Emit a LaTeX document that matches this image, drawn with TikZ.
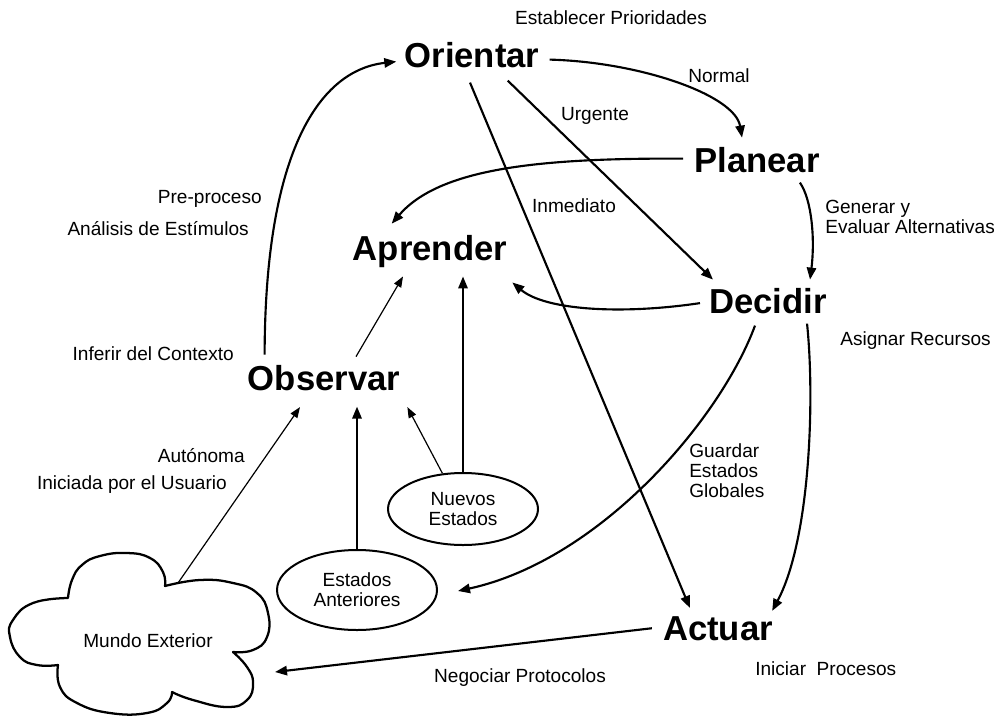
\documentclass[tikz,border=0pt]{standalone}
\usepackage{fontspec}
\setmainfont{Liberation Sans}
\usetikzlibrary{arrows.meta,shapes.geometric}

\begin{document}
\begin{tikzpicture}[x=0.75pt,y=-0.75pt,
  bold/.style={font=\fontsize{26}{30}\selectfont\bfseries, inner sep=0pt, anchor=base},
  note/.style={font=\fontsize{14.3}{15}\selectfont, inner sep=0pt, anchor=base},
  state/.style={ellipse, draw, line width=1.5pt, inner sep=0pt, align=center,
                font=\fontsize{14.3}{15}\selectfont},
  flow/.style={line width=1.6pt, -{Triangle[length=9pt,width=7pt]}},
  thinflow/.style={line width=0.9pt, -{Triangle[length=8pt,width=6pt]}},
  cloudline/.style={line width=1.7pt, line join=round}
]
% canvas
\fill[white] (0,0) rectangle (994,717);
\useasboundingbox (0,0) rectangle (994,717);

% main stages
\node[bold] (orientar) at (472,68) {Orientar};
\node[bold] (planear)  at (757,172) {Planear};
\node[bold] (decidir)  at (768,313) {Decidir};
\node[bold] (aprender) at (430,260) {Aprender};
\node[bold] (observar) at (324,390) {Observar};
\node[bold] (actuar)   at (718,640) {Actuar};

% state stores
\node[state, minimum width=112.5pt, minimum height=54pt] (nuevos) at (463,509) {Nuevos\\Estados};
\node[state, minimum width=120pt, minimum height=60pt] (anteriores) at (357,590) {Estados\\Anteriores};

% outside world
\draw[cloudline] (165,586)
  -- plot[smooth,tension=0.8] coordinates {(165,586) (163,572) (150,558) (127,553) (100,556) (82,565) (72,580) (68,598)}
  -- plot[smooth,tension=0.8] coordinates {(68,598) (33,603) (13,620) (10,637) (20,657) (37,665) (58,665)}
  -- plot[smooth,tension=0.8] coordinates {(58,665) (60,687) (77,703) (110,713) (147,713) (167,703) (172,692)}
  -- plot[smooth,tension=0.8] coordinates {(172,692) (193,700) (227,707) (247,700) (253,683) (247,667) (233,652)}
  -- plot[smooth,tension=0.8] coordinates {(233,652) (253,650) (267,637) (268,613) (257,593) (233,583) (200,580) (165,586)}
  -- cycle;
\node[note] (mundo) at (148,647) {Mundo Exterior};
\coordinate (mundo-out) at (178,583);
\coordinate (mundo-in) at (275,672);

% labels (multi-line labels are placed by the baseline of their last line)
\node[note] (prioridades) at (611,25) {Establecer Prioridades};
\node[note] (normal) at (719,83) {Normal};
\node[note] (urgente) at (595,120) {Urgente};
\node[note] (inmediato) at (574,212) {Inmediato};
\node[note, anchor=base west, align=left] (generar) at (825,233) {Generar y\\Evaluar Alternativas};
\node[note, anchor=base west] (asignar) at (840,345) {Asignar Recursos};
\node[note, anchor=base east] (preproceso) at (262,203) {Pre-proceso};
\node[note, anchor=base east] (analisis) at (249,235) {Análisis de Estímulos};
\node[note, anchor=base east] (inferir) at (234,360) {Inferir del Contexto};
\node[note, anchor=base east] (autonoma) at (245,462) {Autónoma};
\node[note, anchor=base east] (iniciada) at (227,489) {Iniciada por el Usuario};
\node[note, anchor=base west, align=left] (guardar) at (689,497) {Guardar\\Estados\\Globales};
\node[note] (negociar) at (520,682) {Negociar Protocolos};
\node[note, anchor=base west] (iniciar) at (755,675) {Iniciar~ Procesos};

% cycle connectors
\draw[flow] ([shift={(17,-10)}]observar.north west)
  .. controls (265,150) and (320,70) .. ([shift={(-8,6)}]orientar.west);
\draw[flow] ([shift={(10,4)}]orientar.east)
  .. controls (640,62) and (735,95) .. ([shift={(-15,-9)}]planear.north);
\draw[flow] ([shift={(-32,12)}]orientar.south east) -- ([shift={(4,-8)}]decidir.north west);
\draw[flow] ([shift={(-2,14)}]orientar.south) -- ([shift={(27,-8)}]actuar.north west);
\draw[flow] ([shift={(-11,-1)}]planear.west)
  .. controls (540,158) and (440,168) .. ([shift={(39,-11)}]aprender.north west);
\draw[flow] ([shift={(-20,10)}]planear.south east)
  .. controls (812,200) and (815,240) .. ([shift={(-17,-8)}]decidir.north east);
\draw[flow] ([shift={(-9,2.5)}]decidir.west)
  .. controls (620,315) and (545,310) .. ([shift={(5,15)}]aprender.south east);
\draw[flow] ([shift={(-13,12)}]decidir.south)
  .. controls (720,420) and (600,560) .. ([shift={(20,1)}]anteriores.east);
\draw[flow] ([shift={(-20,10)}]decidir.south east)
  .. controls (815,400) and (810,540) .. ([shift={(-1,-5)}]actuar.north east);
\draw[flow] ([shift={(-11,0)}]actuar.west) -- (mundo-in);

% inputs to observing and learning
\draw[thinflow] (mundo-out) -- ([shift={(-24,16.5)}]observar.south);
\draw[thinflow] (nuevos.120) -- ([shift={(7,16.5)}]observar.south east);
\draw[flow] (nuevos.north) -- ([shift={(33,9)}]aprender.south);
\draw[flow] (anteriores.north) -- ([shift={(33,16)}]observar.south);
\draw[thinflow] ([shift={(32,-8)}]observar.north) -- ([shift={(-27,9)}]aprender.south);
\end{tikzpicture}
\end{document}
